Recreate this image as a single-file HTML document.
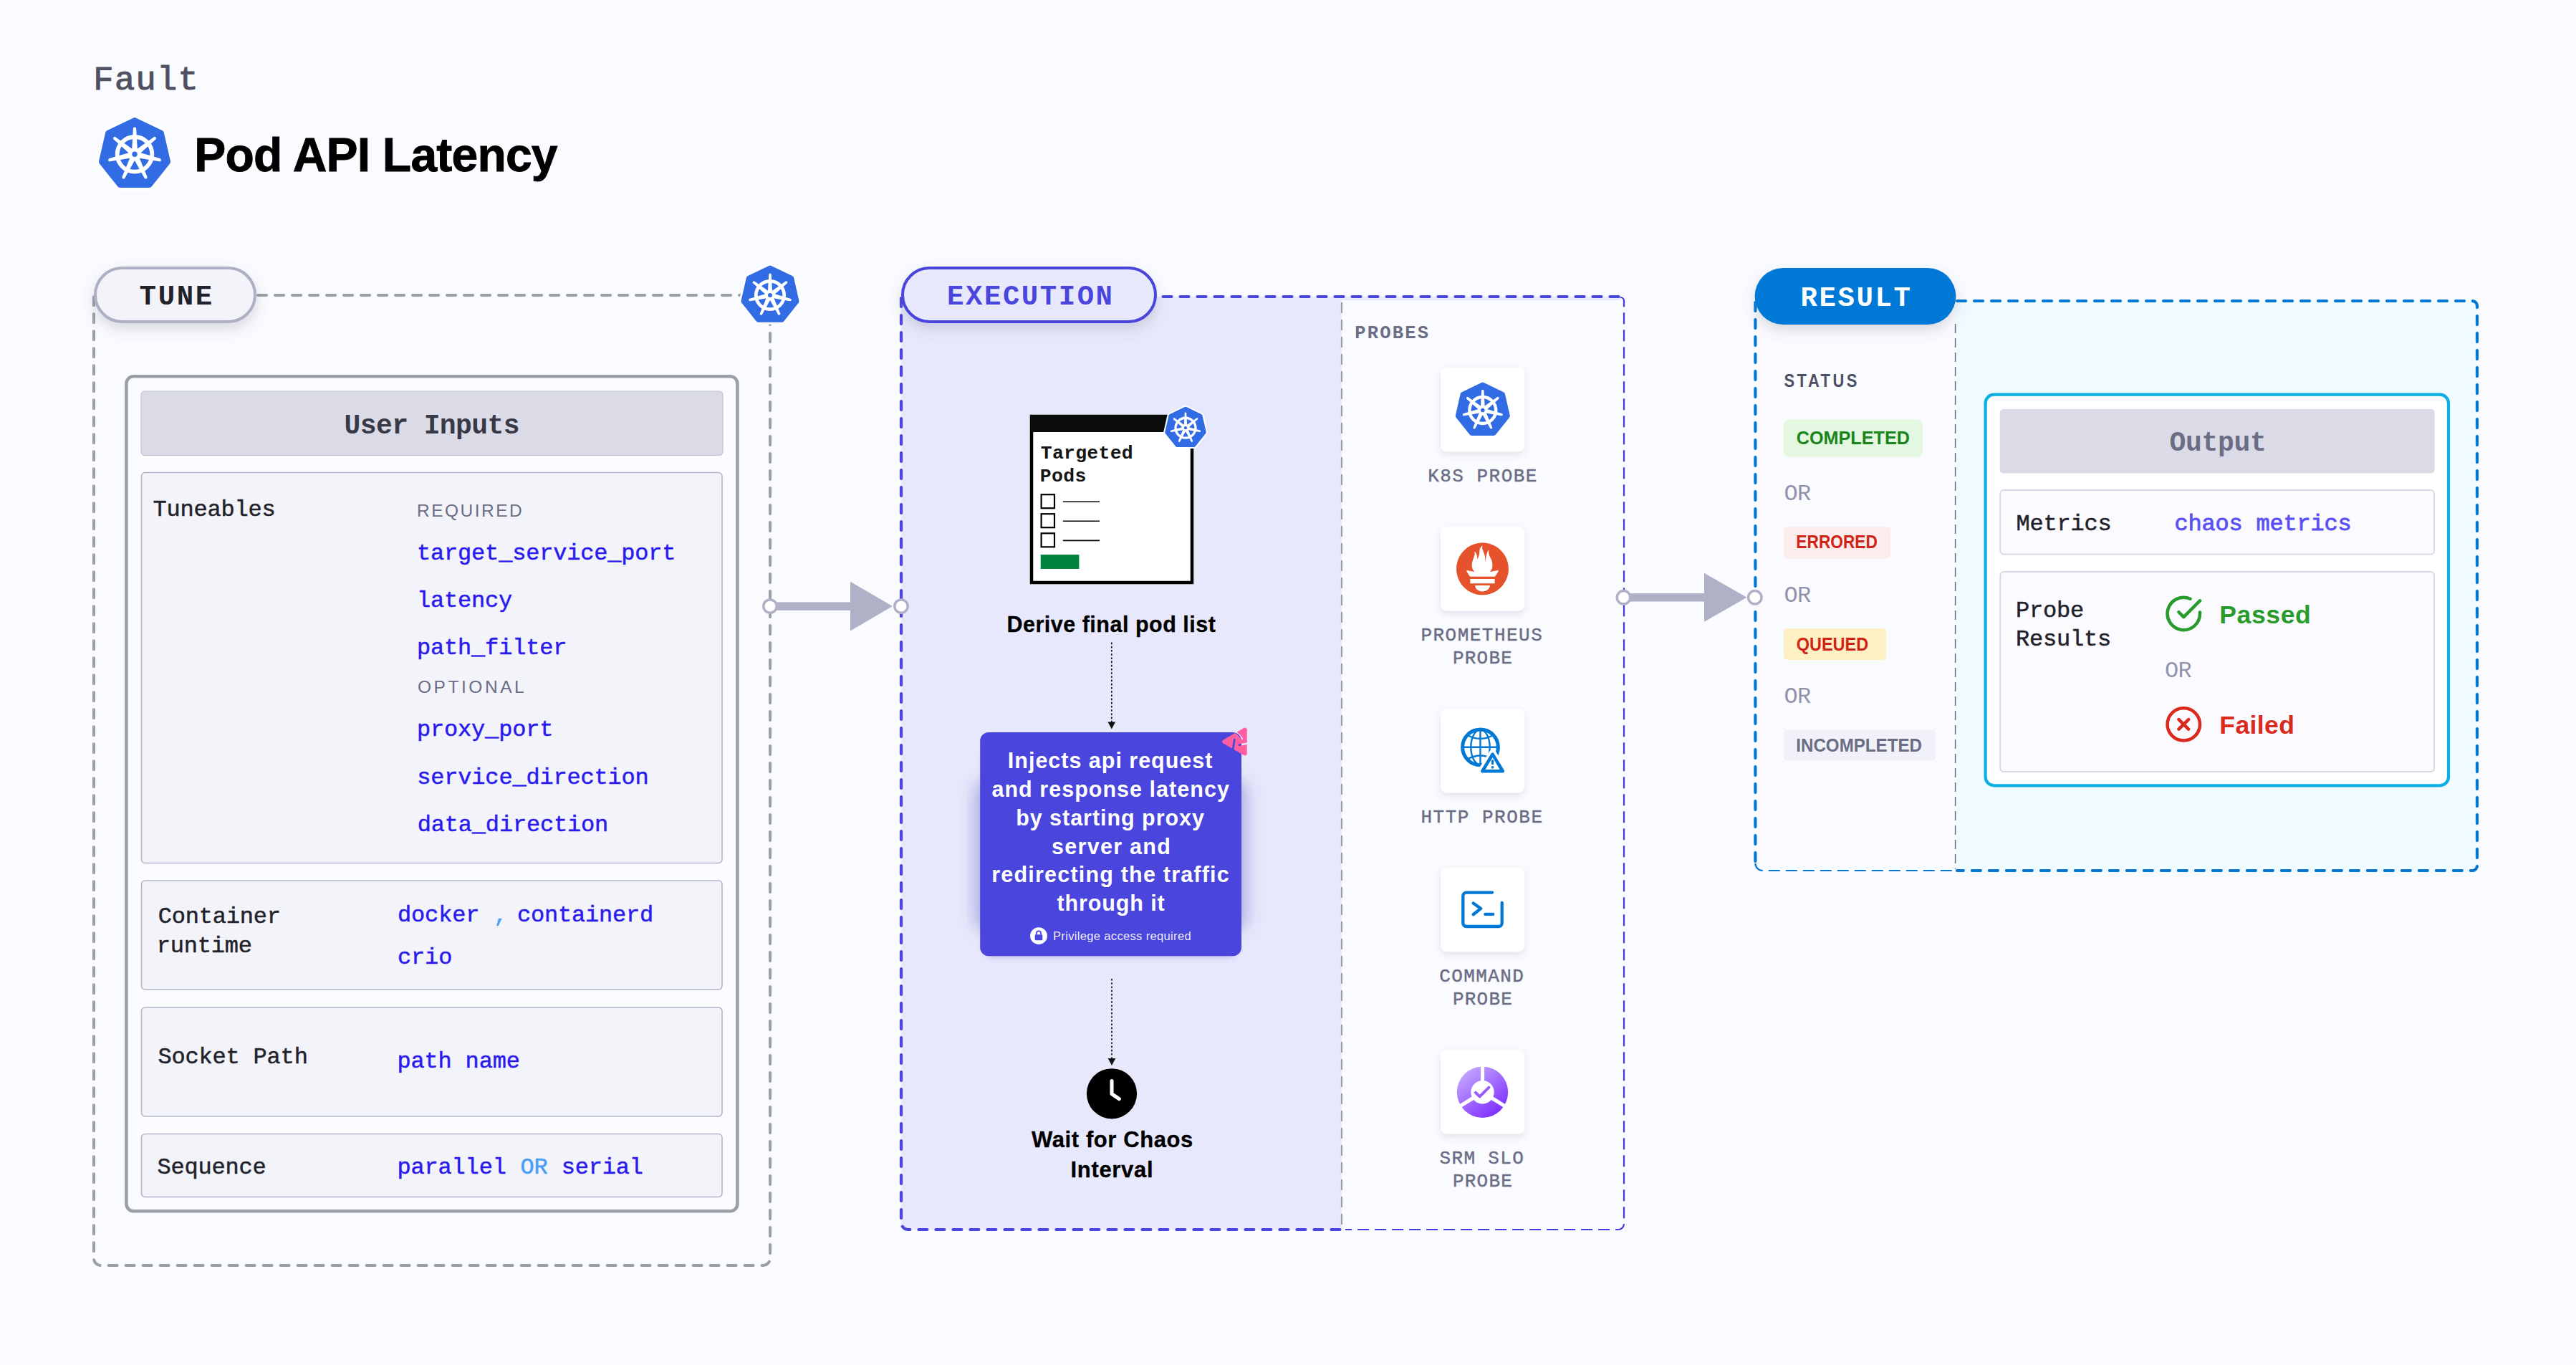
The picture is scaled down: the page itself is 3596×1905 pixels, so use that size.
<!DOCTYPE html>
<html lang="en"><head><meta charset="utf-8"><title>Pod API Latency</title>
<style>
html,body{margin:0;padding:0;background:#fafbff;}
body{width:3596px;height:1905px;overflow:hidden;}
svg{display:block;}
text{white-space:pre;}
</style></head><body>
<svg width="3596" height="1905" viewBox="0 0 3596 1905">
<defs>
<g id="k8sbody"><polygon points="0.00,-46.15 36.08,-28.77 44.99,10.27 20.02,41.58 -20.02,41.58 -44.99,10.27 -36.08,-28.77" fill="#326ce5" stroke="#326ce5" stroke-width="10" stroke-linejoin="round"/><circle r="24.3" fill="none" stroke="#fff" stroke-width="5.8"/><path transform="rotate(0.000)" d="M-3.9,-5 L-2.2,-35.6 A2.2,2.2 0 0 1 2.2,-35.6 L3.9,-5 Z" fill="#fff"/><path transform="rotate(51.429)" d="M-3.9,-5 L-2.2,-35.6 A2.2,2.2 0 0 1 2.2,-35.6 L3.9,-5 Z" fill="#fff"/><path transform="rotate(102.857)" d="M-3.9,-5 L-2.2,-35.6 A2.2,2.2 0 0 1 2.2,-35.6 L3.9,-5 Z" fill="#fff"/><path transform="rotate(154.286)" d="M-3.9,-5 L-2.2,-35.6 A2.2,2.2 0 0 1 2.2,-35.6 L3.9,-5 Z" fill="#fff"/><path transform="rotate(205.714)" d="M-3.9,-5 L-2.2,-35.6 A2.2,2.2 0 0 1 2.2,-35.6 L3.9,-5 Z" fill="#fff"/><path transform="rotate(257.143)" d="M-3.9,-5 L-2.2,-35.6 A2.2,2.2 0 0 1 2.2,-35.6 L3.9,-5 Z" fill="#fff"/><path transform="rotate(308.571)" d="M-3.9,-5 L-2.2,-35.6 A2.2,2.2 0 0 1 2.2,-35.6 L3.9,-5 Z" fill="#fff"/><circle r="8.6" fill="#fff"/><circle r="3.7" fill="#326ce5"/></g><g id="k8sout"><polygon points="0.00,-46.15 36.08,-28.77 44.99,10.27 20.02,41.58 -20.02,41.58 -44.99,10.27 -36.08,-28.77" fill="#fff" stroke="#fff" stroke-width="17" stroke-linejoin="round"/></g>
<filter id="shPill" x="-20%" y="-40%" width="140%" height="200%"><feDropShadow dx="0" dy="8" stdDeviation="9" flood-color="#606170" flood-opacity="0.22"/></filter>
<filter id="shCard" x="-30%" y="-30%" width="160%" height="170%"><feDropShadow dx="0" dy="4" stdDeviation="5" flood-color="#606170" flood-opacity="0.16"/></filter>
<filter id="blurA" x="-30%" y="-40%" width="160%" height="180%"><feGaussianBlur stdDeviation="11"/></filter>
<filter id="blurB" x="-20%" y="-20%" width="140%" height="140%"><feGaussianBlur stdDeviation="4"/></filter>
<linearGradient id="srm" x1="0.15" y1="0.1" x2="0.8" y2="0.95"><stop offset="0" stop-color="#c3a4ff"/><stop offset="1" stop-color="#7d2dff"/></linearGradient>
</defs>
<rect width="3596" height="1905" fill="#fafbff"/>

<text x="130.35" y="125.20" font-family='"Liberation Mono", monospace' font-size="47" font-weight="400" fill="#4f5162" letter-spacing="1.350" stroke="#4f5162" stroke-width="1.1">Fault</text>
<use href="#k8sout" transform="translate(188,215.3) scale(1.0000)"/>
<use href="#k8sbody" transform="translate(188,215.3) scale(1.0000)"/>
<text x="271.25" y="238.60" font-family='"Liberation Sans", sans-serif' font-size="66" font-weight="700" fill="#000" letter-spacing="-0.786" stroke="#000" stroke-width="0.9">Pod API Latency</text>
<path d="M360 412 H1075 V1756 a10 10 0 0 1 -10 10 H141 a10 10 0 0 1 -10 -10 V412" stroke="#9a9ea7" stroke-width="4" stroke-dasharray="12 12" stroke-linecap="round" fill="none"/>
<rect x="133" y="374" width="223" height="75" rx="37.5" fill="#f3f4fa" stroke="#aeaec4" stroke-width="4" filter="url(#shPill)"/>
<text x="194.60" y="425.00" font-family='"Liberation Mono", monospace' font-size="39" font-weight="700" fill="#22222a" letter-spacing="2.683">TUNE</text>
<use href="#k8sout" transform="translate(1075,412) scale(0.8100)"/>
<use href="#k8sbody" transform="translate(1075,412) scale(0.8100)"/>
<rect x="176.4" y="525.3" width="853" height="1165" rx="10" fill="#fbfcff" stroke="#9a9ea7" stroke-width="4.5"/>
<rect x="197" y="546" width="812" height="89.5" rx="5" fill="#dbdbe7" stroke="#c2c3d3" stroke-width="1.2"/>
<text x="480.50" y="604.70" font-family='"Liberation Mono", monospace' font-size="38" font-weight="700" fill="#383946" letter-spacing="-0.575">User Inputs</text>
<rect x="197.5" y="659.5" width="810.5" height="545" rx="5" fill="#f3f4fa" stroke="#b4b5c9" stroke-width="1.6"/>
<rect x="197.5" y="1229" width="810.5" height="152" rx="5" fill="#f3f4fa" stroke="#b4b5c9" stroke-width="1.6"/>
<rect x="197.5" y="1406" width="810.5" height="152" rx="5" fill="#f3f4fa" stroke="#b4b5c9" stroke-width="1.6"/>
<rect x="197.5" y="1582.5" width="810.5" height="88" rx="5" fill="#f3f4fa" stroke="#b4b5c9" stroke-width="1.6"/>
<text x="213.50" y="719.50" font-family='"Liberation Mono", monospace' font-size="32" font-weight="400" fill="#22222a" letter-spacing="-0.190" stroke="#22222a" stroke-width="0.5">Tuneables</text>
<text x="582.00" y="720.80" font-family='"Liberation Sans", sans-serif' font-size="24.5" font-weight="400" fill="#6b6d85" letter-spacing="2.479">REQUIRED</text>
<text x="582.05" y="781.00" font-family='"Liberation Mono", monospace' font-size="32" font-weight="400" fill="#2a1aee" letter-spacing="-0.190" stroke="#2a1aee" stroke-width="0.5">target_service_port</text>
<text x="582.00" y="847.00" font-family='"Liberation Mono", monospace' font-size="32" font-weight="400" fill="#2a1aee" letter-spacing="-0.190" stroke="#2a1aee" stroke-width="0.5">latency</text>
<text x="582.05" y="913.00" font-family='"Liberation Mono", monospace' font-size="32" font-weight="400" fill="#2a1aee" letter-spacing="-0.190" stroke="#2a1aee" stroke-width="0.5">path_filter</text>
<text x="583.00" y="966.70" font-family='"Liberation Sans", sans-serif' font-size="24.5" font-weight="400" fill="#6b6d85" letter-spacing="3.536">OPTIONAL</text>
<text x="582.05" y="1027.00" font-family='"Liberation Mono", monospace' font-size="32" font-weight="400" fill="#2a1aee" letter-spacing="-0.190" stroke="#2a1aee" stroke-width="0.5">proxy_port</text>
<text x="582.30" y="1094.00" font-family='"Liberation Mono", monospace' font-size="32" font-weight="400" fill="#2a1aee" letter-spacing="-0.190" stroke="#2a1aee" stroke-width="0.5">service_direction</text>
<text x="582.80" y="1159.50" font-family='"Liberation Mono", monospace' font-size="32" font-weight="400" fill="#2a1aee" letter-spacing="-0.190" stroke="#2a1aee" stroke-width="0.5">data_direction</text>
<text x="220.75" y="1287.60" font-family='"Liberation Mono", monospace' font-size="32" font-weight="400" fill="#22222a" letter-spacing="-0.190" stroke="#22222a" stroke-width="0.5">Container</text>
<text x="218.75" y="1329.00" font-family='"Liberation Mono", monospace' font-size="32" font-weight="400" fill="#22222a" letter-spacing="-0.190" stroke="#22222a" stroke-width="0.5">runtime</text>
<text x="555.10" y="1286.00" font-family='"Liberation Mono", monospace' font-size="32" font-weight="400" fill="#2a1aee" letter-spacing="-0.190" stroke="#2a1aee" stroke-width="0.5">docker</text>
<text x="689.30" y="1286.00" font-family='"Liberation Mono", monospace' font-size="32" font-weight="400" fill="#4b9cf5" letter-spacing="-0.190" stroke="#4b9cf5" stroke-width="0.5">,</text>
<text x="722.00" y="1286.00" font-family='"Liberation Mono", monospace' font-size="32" font-weight="400" fill="#2a1aee" letter-spacing="-0.190" stroke="#2a1aee" stroke-width="0.5">containerd</text>
<text x="555.10" y="1345.00" font-family='"Liberation Mono", monospace' font-size="32" font-weight="400" fill="#2a1aee" letter-spacing="-0.190" stroke="#2a1aee" stroke-width="0.5">crio</text>
<text x="220.50" y="1483.50" font-family='"Liberation Mono", monospace' font-size="32" font-weight="400" fill="#22222a" letter-spacing="-0.190" stroke="#22222a" stroke-width="0.5">Socket Path</text>
<text x="554.55" y="1490.40" font-family='"Liberation Mono", monospace' font-size="32" font-weight="400" fill="#2a1aee" letter-spacing="-0.190" stroke="#2a1aee" stroke-width="0.5">path name</text>
<text x="219.50" y="1638.00" font-family='"Liberation Mono", monospace' font-size="32" font-weight="400" fill="#22222a" letter-spacing="-0.190" stroke="#22222a" stroke-width="0.5">Sequence</text>
<text x="554.55" y="1638.00" font-family='"Liberation Mono", monospace' font-size="32" font-weight="400" fill="#2a1aee" letter-spacing="-0.190" stroke="#2a1aee" stroke-width="0.5">parallel</text>
<text x="726.50" y="1638.00" font-family='"Liberation Mono", monospace' font-size="32" font-weight="400" fill="#4b9cf5" letter-spacing="-0.190" stroke="#4b9cf5" stroke-width="0.5">OR</text>
<text x="783.80" y="1638.00" font-family='"Liberation Mono", monospace' font-size="32" font-weight="400" fill="#2a1aee" letter-spacing="-0.190" stroke="#2a1aee" stroke-width="0.5">serial</text>
<path d="M1258 414 H2262 V419 H1873 V1716 H1266 a8 8 0 0 1 -8 -8 Z" fill="#e8e8fc"/>
<path d="M1623.5 414 H2260" stroke="#4a45dc" stroke-width="4.2" stroke-dasharray="12 12" stroke-linecap="round" fill="none"/>
<path d="M1258 416 V1706 a10 10 0 0 0 10 10 H1873" stroke="#4a45dc" stroke-width="4.2" stroke-dasharray="12 12" stroke-linecap="round" fill="none"/>
<path d="M2262 415 a5 5 0 0 1 5 5 V1708 a8 8 0 0 1 -8 8 H1878" stroke="#3f38e0" stroke-width="2.2" stroke-dasharray="16 8" fill="none"/>
<path d="M1873 422 V1712" stroke="#9a9ea7" stroke-width="2.2" stroke-dasharray="15 9" fill="none"/>
<rect x="1260" y="374" width="353" height="75" rx="37.5" fill="#e8e8fc" stroke="#4a45dc" stroke-width="4" filter="url(#shPill)"/>
<text x="1322.10" y="425.00" font-family='"Liberation Mono", monospace' font-size="39" font-weight="700" fill="#4a45dc" letter-spacing="2.531">EXECUTION</text>
<rect x="1075" y="840.4" width="113" height="11.4" fill="#b0b1c6"/>
<polygon points="1187,811.7 1246,846.1 1187,880.5" fill="#b0b1c6"/>
<circle cx="1075" cy="846.1" r="9.2" fill="#fff" stroke="#b0b1c6" stroke-width="3.5"/>
<circle cx="1258" cy="846.1" r="9.2" fill="#fff" stroke="#b0b1c6" stroke-width="3.5"/>
<rect x="1440" y="581" width="224" height="232" fill="#fff" stroke="#000" stroke-width="4.5"/>
<rect x="1438" y="579" width="228" height="24" fill="#0b0c0c"/>
<text x="1452.75" y="639.70" font-family='"Liberation Mono", monospace' font-size="26.5" font-weight="700" fill="#151515" letter-spacing="0.250">Targeted</text>
<text x="1451.75" y="671.80" font-family='"Liberation Mono", monospace' font-size="26.5" font-weight="700" fill="#151515" letter-spacing="0.333">Pods</text>
<rect x="1453.6" y="690.1999999999999" width="18.4" height="19" fill="#fff" stroke="#000" stroke-width="2.2"/>
<line x1="1483.8" y1="700.3" x2="1535" y2="700.3" stroke="#000" stroke-width="1.6"/>
<rect x="1453.6" y="717.1999999999999" width="18.4" height="19" fill="#fff" stroke="#000" stroke-width="2.2"/>
<line x1="1483.8" y1="727.3" x2="1535" y2="727.3" stroke="#000" stroke-width="1.6"/>
<rect x="1453.6" y="744.3" width="18.4" height="19" fill="#fff" stroke="#000" stroke-width="2.2"/>
<line x1="1483.8" y1="754.4" x2="1535" y2="754.4" stroke="#000" stroke-width="1.6"/>
<rect x="1452.7" y="774" width="53.7" height="20" fill="#00843d"/>
<use href="#k8sout" transform="translate(1655,597.2) scale(0.5750)"/>
<use href="#k8sbody" transform="translate(1655,597.2) scale(0.5750)"/>
<text x="1405.45" y="882.00" font-family='"Liberation Sans", sans-serif' font-size="30.5" font-weight="700" fill="#000" letter-spacing="0.503" stroke="#000" stroke-width="0.3">Derive final pod list</text>
<line x1="1551.8" y1="896.6" x2="1551.8" y2="1008.5" stroke="#111" stroke-width="1.7" stroke-dasharray="2.6 2.6"/>
<polygon points="1546.5,1007.5 1557.1,1007.5 1551.8,1017.5" fill="#111"/>
<rect x="1360" y="1088" width="381" height="212" rx="20" fill="#4a48b8" fill-opacity="0.36" filter="url(#blurA)"/>
<rect x="1374" y="1040" width="353" height="296" rx="12" fill="#4a48b8" fill-opacity="0.28" filter="url(#blurB)"/>
<rect x="1368.2" y="1022" width="364.8" height="312.3" rx="12" fill="#4a45dc"/>
<text x="1406.85" y="1071.70" font-family='"Liberation Sans", sans-serif' font-size="30.5" font-weight="700" fill="#fff" letter-spacing="0.986">Injects api request</text>
<text x="1384.45" y="1111.60" font-family='"Liberation Sans", sans-serif' font-size="30.5" font-weight="700" fill="#fff" letter-spacing="1.029">and response latency</text>
<text x="1418.20" y="1151.60" font-family='"Liberation Sans", sans-serif' font-size="30.5" font-weight="700" fill="#fff" letter-spacing="0.956">by starting proxy</text>
<text x="1468.10" y="1191.50" font-family='"Liberation Sans", sans-serif' font-size="30.5" font-weight="700" fill="#fff" letter-spacing="1.278">server and</text>
<text x="1384.30" y="1231.40" font-family='"Liberation Sans", sans-serif' font-size="30.5" font-weight="700" fill="#fff" letter-spacing="1.198">redirecting the traffic</text>
<text x="1475.60" y="1271.40" font-family='"Liberation Sans", sans-serif' font-size="30.5" font-weight="700" fill="#fff" letter-spacing="0.861">through it</text>
<circle cx="1450" cy="1306.2" r="11.9" fill="#fff"/>
<rect x="1444.7" y="1304.3" width="10.6" height="8" rx="1.2" fill="#4a45dc"/>
<path d="M1447 1304.5 v-2.2 a3 3 0 0 1 6 0 v2.2" fill="none" stroke="#4a45dc" stroke-width="1.8"/>
<text x="1469.95" y="1312.20" font-family='"Liberation Sans", sans-serif' font-size="16.6" font-weight="400" fill="#fff" letter-spacing="0.306" fill-opacity="0.92">Privilege access required</text>
<g>
<mask id="pm" maskUnits="userSpaceOnUse" x="1700" y="1010" width="50" height="50">
<rect x="1700" y="1010" width="50" height="50" fill="#fff"/>
<path d="M1725.1 1022 Q1730.5 1025.5 1733.6 1030.8" stroke="#000" stroke-width="2.6" fill="none" stroke-linecap="round"/>
<path d="M1721.0 1047 L1723.3 1032.2" stroke="#000" stroke-width="2.8" fill="none" stroke-linecap="round"/>
<path d="M1742 1037.5 L1729.7 1039.7" stroke="#000" stroke-width="2.6" fill="none" stroke-linecap="round"/>
</mask>
<polygon points="1709.2,1035 1737.8,1018.6 1737.8,1051.4" fill="#ff5fa0" stroke="#ff5fa0" stroke-width="6" stroke-linejoin="round" mask="url(#pm)"/>
</g>
<line x1="1552" y1="1366" x2="1552" y2="1478" stroke="#111" stroke-width="1.7" stroke-dasharray="2.6 2.6"/>
<polygon points="1546.7,1477 1557.3,1477 1552,1487" fill="#111"/>
<circle cx="1552" cy="1526.3" r="35.1" fill="#000"/>
<path d="M1552 1508.6 V1526.6 L1562.3 1533.6" fill="none" stroke="#fff" stroke-width="5.1" stroke-linecap="round" stroke-linejoin="round"/>
<text x="1440.00" y="1601.30" font-family='"Liberation Sans", sans-serif' font-size="31" font-weight="700" fill="#000" letter-spacing="0.596" stroke="#000" stroke-width="0.3">Wait for Chaos</text>
<text x="1494.50" y="1643.20" font-family='"Liberation Sans", sans-serif' font-size="31" font-weight="700" fill="#000" letter-spacing="0.679" stroke="#000" stroke-width="0.3">Interval</text>
<text x="1891.20" y="472.20" font-family='"Liberation Mono", monospace' font-size="25.5" font-weight="700" fill="#6b6d85" letter-spacing="2.210">PROBES</text>
<rect x="2011" y="513" width="117.2" height="117.2" rx="8.5" fill="#fff" filter="url(#shCard)"/>
<rect x="2011" y="735.2" width="117.2" height="117.2" rx="8.5" fill="#fff" filter="url(#shCard)"/>
<rect x="2011" y="989.2" width="117.2" height="117.2" rx="8.5" fill="#fff" filter="url(#shCard)"/>
<rect x="2011" y="1211" width="117.2" height="117.2" rx="8.5" fill="#fff" filter="url(#shCard)"/>
<rect x="2011" y="1465.2" width="117.2" height="117.2" rx="8.5" fill="#fff" filter="url(#shCard)"/>
<use href="#k8sbody" transform="translate(2069.8,572.5) scale(0.7600)"/>
<text x="1993.20" y="671.80" font-family='"Liberation Mono", monospace' font-size="26" font-weight="400" fill="#6b6d85" letter-spacing="1.475" stroke="#6b6d85" stroke-width="0.45">K8S PROBE</text>
<g transform="translate(2033.10,757.50) scale(3.0333)"><path fill="#e6522c" d="M12 0C5.373 0 0 5.372 0 12c0 6.627 5.373 12 12 12s12-5.373 12-12c0-6.628-5.373-12-12-12zm0 22.460c-1.885 0-3.414-1.260-3.414-2.814h6.828c0 1.553-1.528 2.813-3.414 2.813zm5.640-3.745H6.360v-2.046h11.280v2.046zm-.04-3.098H6.391c-.037-.043-.075-.086-.111-.130-1.155-1.401-1.427-2.133-1.690-2.879-.005-.025 1.400.287 2.395.511 0 0 .513.119 1.262.255-.72-.843-1.147-1.915-1.147-3.010 0-2.406 1.845-4.508 1.180-6.207.648.053 1.340 1.367 1.387 3.422.689-.951.977-2.690.977-3.755 0-1.103.727-2.385 1.454-2.429-.648 1.069.168 1.984.894 4.256.272.854.237 2.290.447 3.201.070-1.892.395-4.652 1.595-5.605-.529 1.200.079 2.702.494 3.424.671 1.164 1.078 2.047 1.078 3.716 0 1.119-.414 2.173-1.110 2.996.792-.149 1.340-.283 1.340-.283l2.573-.502s-.374 1.538-1.810 3.019z"/></g>
<text x="1983.45" y="893.90" font-family='"Liberation Mono", monospace' font-size="26" font-weight="400" fill="#6b6d85" letter-spacing="1.478" stroke="#6b6d85" stroke-width="0.45">PROMETHEUS</text>
<text x="2027.95" y="925.90" font-family='"Liberation Mono", monospace' font-size="26" font-weight="400" fill="#6b6d85" letter-spacing="1.212" stroke="#6b6d85" stroke-width="0.45">PROBE</text>
<g fill="none" stroke="#0278d5">
<circle cx="2066.5" cy="1042.8" r="24.9" stroke-width="5"/>
<ellipse cx="2066.5" cy="1042.8" rx="13.2" ry="24.5" stroke-width="2.4"/>
<line x1="2066.5" y1="1018.8" x2="2066.5" y2="1066.8" stroke-width="2.4"/>
<line x1="2042.5" y1="1042.8" x2="2090.5" y2="1042.8" stroke-width="2.4"/>
<path d="M2049.0 1026.3 Q2066.5 1035.8 2084.0 1026.3" stroke-width="2.4"/>
<path d="M2049.0 1059.3 Q2066.5 1049.8 2084.0 1059.3" stroke-width="2.4"/>
</g>
<polygon points="2083.6,1052 2068.6,1076.6 2098.6,1076.6" fill="#fff" stroke="#fff" stroke-width="11" stroke-linejoin="round"/>
<polygon points="2083.6,1052.6 2069.4,1076.3 2097.8,1076.3" fill="#fff" stroke="#0278d5" stroke-width="4.6" stroke-linejoin="round"/>
<line x1="2083.5" y1="1060.6" x2="2083.5" y2="1067" stroke="#0278d5" stroke-width="3"/>
<circle cx="2083.5" cy="1070.9" r="1.8" fill="#0278d5"/>
<text x="1983.45" y="1147.80" font-family='"Liberation Mono", monospace' font-size="26" font-weight="400" fill="#6b6d85" letter-spacing="1.506" stroke="#6b6d85" stroke-width="0.45">HTTP PROBE</text>
<g fill="none" stroke="#0278d5" stroke-width="4.3" stroke-linecap="round" stroke-linejoin="round">
<path d="M2083.1 1245.6 H2047 a4.7 4.7 0 0 0 -4.7 4.7 V1288.3 a4.7 4.7 0 0 0 4.7 4.7 H2092 a4.7 4.7 0 0 0 4.7 -4.7 V1260"/>
<path d="M2056.7 1260.5 L2067.2 1267.9 L2056.7 1276.2"/>
<path d="M2073.3 1275.9 H2084.3"/></g>
<text x="2009.35" y="1370.10" font-family='"Liberation Mono", monospace' font-size="26" font-weight="400" fill="#6b6d85" letter-spacing="1.375" stroke="#6b6d85" stroke-width="0.45">COMMAND</text>
<text x="2027.95" y="1401.80" font-family='"Liberation Mono", monospace' font-size="26" font-weight="400" fill="#6b6d85" letter-spacing="1.212" stroke="#6b6d85" stroke-width="0.45">PROBE</text>
<g><mask id="sm" maskUnits="userSpaceOnUse" x="2030" y="1485" width="80" height="80">
<rect x="2030" y="1485" width="80" height="80" fill="#fff"/>
<circle cx="2069.5" cy="1524.2" r="16.2" fill="#000"/>
<g stroke="#000" stroke-width="5.2">
<line x1="2069.5" y1="1524.2" x2="2069.5" y2="1484.2"/>
<line x1="2069.5" y1="1524.2" x2="2103.42" y2="1545.40"/>
<line x1="2069.5" y1="1524.2" x2="2035.58" y2="1545.40"/>
</g></mask>
<circle cx="2069.5" cy="1524.2" r="35.7" fill="url(#srm)" mask="url(#sm)"/>
<path d="M2059.9 1524.8 L2065.6 1530.4 L2078.4 1517.6000000000001" fill="none" stroke="#9b5cff" stroke-width="4" stroke-linecap="round" stroke-linejoin="round"/></g>
<text x="2009.60" y="1624.00" font-family='"Liberation Mono", monospace' font-size="26" font-weight="400" fill="#6b6d85" letter-spacing="1.333" stroke="#6b6d85" stroke-width="0.45">SRM SLO</text>
<text x="2027.95" y="1656.00" font-family='"Liberation Mono", monospace' font-size="26" font-weight="400" fill="#6b6d85" letter-spacing="1.212" stroke="#6b6d85" stroke-width="0.45">PROBE</text>
<path d="M2730 420 H3450 a8 8 0 0 1 8 8 V1207 a8 8 0 0 1 -8 8 H2730 Z" fill="#effbff"/>
<path d="M2732 420 H3451 a7 7 0 0 1 7 7 V1208 a7 7 0 0 1 -7 7 H2732" stroke="#0278d5" stroke-width="4.2" stroke-dasharray="12 12" stroke-linecap="round" fill="none"/>
<path d="M2450.4 422 V1205" stroke="#0278d5" stroke-width="4.2" stroke-dasharray="12 12" stroke-linecap="round" fill="none"/>
<path d="M2450.4 1205 a10 10 0 0 0 10 10 H2730" stroke="#0278d5" stroke-width="2.2" stroke-dasharray="16 8" fill="none"/>
<path d="M2729.6 452 V1213" stroke="#6b6d85" stroke-width="1.5" stroke-dasharray="13 7" fill="none"/>
<rect x="2449.6" y="374" width="280.8" height="79" rx="39.5" fill="#0278d5" filter="url(#shPill)"/>
<text x="2513.60" y="427.00" font-family='"Liberation Mono", monospace' font-size="39" font-weight="700" fill="#fff" letter-spacing="2.570">RESULT</text>
<rect x="2266" y="828.0999999999999" width="114" height="11.4" fill="#b0b1c6"/>
<polygon points="2379,799.8 2438.6,833.8 2379,867.8" fill="#b0b1c6"/>
<circle cx="2266.5" cy="833.8" r="9.2" fill="#fff" stroke="#b0b1c6" stroke-width="3.5"/>
<circle cx="2449.8" cy="833.8" r="9.2" fill="#fff" stroke="#b0b1c6" stroke-width="3.5"/>
<text transform="translate(2490.47,540.00) scale(0.8600,1)" font-family='"Liberation Sans", sans-serif' font-size="25.5" font-weight="700" fill="#4f5162" letter-spacing="4.088">STATUS</text>
<rect x="2490" y="585.2" width="194" height="52.6" rx="8" fill="#e4f7e1"/>
<text transform="translate(2507.71,620.40) scale(0.9889,1)" font-family='"Liberation Sans", sans-serif' font-size="25.5" font-weight="700" fill="#1b841d" letter-spacing="0.000">COMPLETED</text>
<text x="2490.50" y="697.80" font-family='"Liberation Mono", monospace' font-size="32" font-weight="400" fill="#9293ab" letter-spacing="-0.650">OR</text>
<rect x="2490" y="735.2" width="149" height="44.4" rx="5" fill="#fcedec"/>
<text transform="translate(2507.36,765.20) scale(0.8904,1)" font-family='"Liberation Sans", sans-serif' font-size="25.5" font-weight="700" fill="#cf2318" letter-spacing="0.000">ERRORED</text>
<text x="2490.50" y="839.60" font-family='"Liberation Mono", monospace' font-size="32" font-weight="400" fill="#9293ab" letter-spacing="-0.650">OR</text>
<rect x="2490" y="877" width="143" height="43.9" rx="5" fill="#fff0c4"/>
<text transform="translate(2507.78,907.80) scale(0.9203,1)" font-family='"Liberation Sans", sans-serif' font-size="25.5" font-weight="700" fill="#cf2318" letter-spacing="0.000">QUEUED</text>
<text x="2490.50" y="980.90" font-family='"Liberation Mono", monospace' font-size="32" font-weight="400" fill="#9293ab" letter-spacing="-0.650">OR</text>
<rect x="2490" y="1018.3" width="212" height="43.4" rx="5" fill="#f1f1f9"/>
<text transform="translate(2507.28,1048.70) scale(0.9468,1)" font-family='"Liberation Sans", sans-serif' font-size="25.5" font-weight="700" fill="#6b6d85" letter-spacing="0.000">INCOMPLETED</text>
<rect x="2771.6" y="550.7" width="646.4" height="545.6" rx="12" fill="#ffffff" stroke="#0ab0e3" stroke-width="4.2"/>
<rect x="2791.7" y="571" width="607" height="89.4" rx="5" fill="#dbdbe7"/>
<text x="3028.55" y="629.00" font-family='"Liberation Mono", monospace' font-size="38" font-weight="700" fill="#6b6d85" letter-spacing="-0.320">Output</text>
<rect x="2792.3" y="684" width="605.8" height="89.5" rx="5" fill="#fbfbff" stroke="#d8d9e6" stroke-width="2"/>
<rect x="2792.3" y="798" width="605.8" height="279" rx="5" fill="#fbfbff" stroke="#d8d9e6" stroke-width="2"/>
<text x="2814.50" y="740.00" font-family='"Liberation Mono", monospace' font-size="32" font-weight="400" fill="#22222a" letter-spacing="-0.190" stroke="#22222a" stroke-width="0.5">Metrics</text>
<text x="3035.40" y="740.00" font-family='"Liberation Mono", monospace' font-size="32" font-weight="400" fill="#5a4ff2" letter-spacing="-0.190" stroke="#5a4ff2" stroke-width="0.8">chaos metrics</text>
<text x="2814.00" y="860.90" font-family='"Liberation Mono", monospace' font-size="32" font-weight="400" fill="#22222a" letter-spacing="-0.190" stroke="#22222a" stroke-width="0.5">Probe</text>
<text x="2814.00" y="901.30" font-family='"Liberation Mono", monospace' font-size="32" font-weight="400" fill="#22222a" letter-spacing="-0.190" stroke="#22222a" stroke-width="0.5">Results</text>
<g transform="translate(3021.06,829.26) scale(2.27)" fill="none" stroke="#299b2c" stroke-width="2" stroke-linecap="round" stroke-linejoin="round"><path d="M22 11.08V12a10 10 0 1 1-5.93-9.14"/><polyline points="22 4 12 14.01 9 11.01"/></g>
<text x="3098.35" y="869.60" font-family='"Liberation Sans", sans-serif' font-size="35.6" font-weight="700" fill="#299b2c" letter-spacing="0.550">Passed</text>
<text x="3022.00" y="944.80" font-family='"Liberation Mono", monospace' font-size="32" font-weight="400" fill="#9293ab" letter-spacing="-0.650">OR</text>
<g transform="translate(3021.06,983.66) scale(2.27)" fill="none" stroke="#da291d" stroke-width="2" stroke-linecap="round" stroke-linejoin="round"><circle cx="12" cy="12" r="10"/><line x1="15" y1="9" x2="9" y2="15"/><line x1="9" y1="9" x2="15" y2="15"/></g>
<text x="3098.35" y="1024.00" font-family='"Liberation Sans", sans-serif' font-size="35.6" font-weight="700" fill="#da291d" letter-spacing="0.350">Failed</text>
</svg></body></html>
